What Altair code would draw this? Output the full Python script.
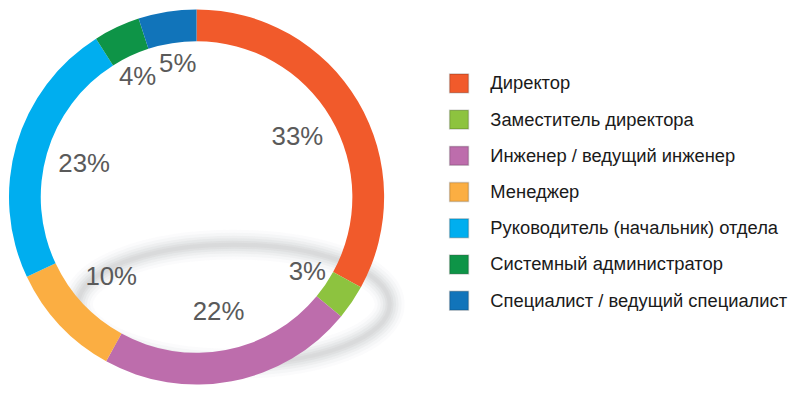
import altair as alt
import pandas as pd

categories = [
    "Директор",
    "Заместитель директора",
    "Инженер / ведущий инженер",
    "Менеджер",
    "Руководитель (начальник) отдела",
    "Системный администратор",
    "Специалист / ведущий специалист",
]
values = [33, 3, 22, 10, 23, 4, 5]
colors = ["#F15A2B", "#8DC33F", "#BD6DAC", "#FBAE42", "#00AEEF", "#0E9447", "#1174BA"]

# label anchor along the ring (in value units): slice midpoints, spread apart
# so that neighbouring small labels do not collide
total = sum(values)
mids = []
acc = 0
for v in values:
    mids.append(acc + v / 2)
    acc += v
min_sep = total * 0.05
for i in range(1, len(mids)):
    gap = mids[i] - mids[i - 1]
    if gap < min_sep:
        push = (min_sep - gap) / 2
        mids[i - 1] -= push
        mids[i] += push

df = pd.DataFrame({
    "category": categories,
    "value": values,
    "idx": list(range(len(categories))),
    "label": [f"{v}%" for v in values],
    "label_pos": mids,
})

CX, CY = 190, 189
R_OUT, R_IN = 189, 157

ellipse_path = "M-1,0A1,0.382 0 1,0 1,0A1,0.382 0 1,0 -1,0Z"
shadow_data = alt.Data(values=[{"k": 1}])
shadow_layers = []
for sw, op in [(30, 0.045), (24, 0.065), (18, 0.085), (13, 0.1), (8, 0.12), (4, 0.11)]:
    shadow_layers.append(
        alt.Chart(shadow_data).mark_point(
            shape=ellipse_path, size=98596, filled=False,
            stroke="#a9adaf", strokeWidth=sw, strokeOpacity=op, opacity=1,
        ).encode(x=alt.value(227.6), y=alt.value(297))
    )

theta_scale = alt.Scale(domain=[0, total])

arc = alt.Chart(df).mark_arc(innerRadius=R_IN, outerRadius=R_OUT).encode(
    theta=alt.Theta("value:Q", stack=True, scale=theta_scale),
    order=alt.Order("idx:Q"),
    x=alt.value(CX), y=alt.value(CY),
    color=alt.Color(
        "category:N",
        sort=categories,
        scale=alt.Scale(domain=categories, range=colors),
        legend=alt.Legend(
            orient="none", legendX=444, legendY=64, title=None,
            symbolType="square", symbolSize=361,
            symbolStrokeColor="rgba(0,0,0,0.18)", symbolStrokeWidth=1.5,
            labelFontSize=18.5, labelFont="Liberation Sans", labelColor="#1a1a1a",
            labelOffset=21, rowPadding=11.5, padding=0, labelLimit=400,
        ),
    ),
)

def label_layer(filter_expr, radius):
    return alt.Chart(df).transform_filter(filter_expr).mark_text(
        fontSize=26, font="Liberation Sans", color="#5a5a5a", radius=radius,
    ).encode(
        theta=alt.Theta("label_pos:Q", stack=None, scale=theta_scale),
        x=alt.value(CX), y=alt.value(CY),
        text="label:N",
    )

text_big = label_layer("datum.value >= 6", 118)
text_small = label_layer("datum.value < 6", 135)

chart = alt.layer(*shadow_layers, arc, text_big, text_small).properties(
    width=790, height=378, autosize=alt.AutoSizeParams(type="none"), padding=0,
).configure_view(stroke=None)

chart.save("out.html", embed_options={"renderer": "svg", "actions": False})
